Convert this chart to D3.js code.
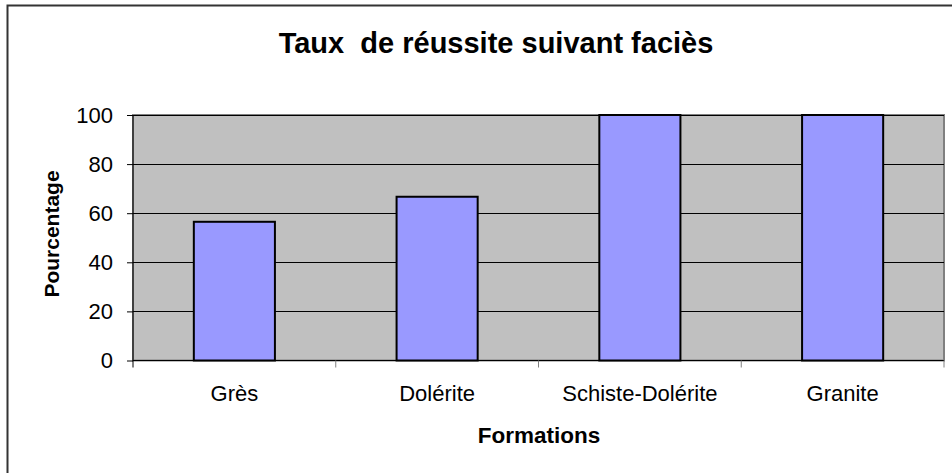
<!DOCTYPE html>
<html>
  <head>
    <meta charset="utf-8" />
    <title>Taux de réussite suivant faciès</title>
    <style>
      body {
        margin: 0;
        background: #fff;
      }
      svg text {
        font-family: "Liberation Sans", Arial, sans-serif;
        fill: #000;
      }
    </style>
  </head>
  <body>
    <svg id="chart" width="952" height="473"></svg>
    <script src="https://cdn.jsdelivr.net/npm/d3@7"></script>
    <script>
      const categories = ["Grès", "Dolérite", "Schiste-Dolérite", "Granite"];
      const values = [56.5, 66.7, 100, 100];
      const yTicks = [0, 20, 40, 60, 80, 100];

      const width = 952;
      const height = 473;
      const plot = { left: 133, right: 944, top: 115, bottom: 360.5 };

      const svg = d3.select("#chart");

      // outer chart frame (runs off the right and bottom edges)
      svg
        .append("rect")
        .attr("x", 7.5)
        .attr("y", 5.5)
        .attr("width", 1000)
        .attr("height", 600)
        .attr("fill", "none")
        .attr("stroke", "#333")
        .attr("stroke-width", 2);

      const x = d3
        .scaleBand()
        .domain(categories)
        .range([plot.left, plot.right])
        .paddingInner(0.6)
        .paddingOuter(0.3);

      const xEdges = d3
        .scaleBand()
        .domain(categories)
        .range([plot.left, plot.right]);

      const y = d3
        .scaleLinear()
        .domain([0, 100])
        .range([plot.bottom, plot.top]);

      // plot area
      svg
        .append("rect")
        .attr("x", plot.left)
        .attr("y", plot.top)
        .attr("width", plot.right - plot.left)
        .attr("height", plot.bottom - plot.top)
        .attr("fill", "#c0c0c0")
        .attr("stroke", "#808080")
        .attr("stroke-width", 2);

      // gridlines
      svg
        .append("g")
        .selectAll("line")
        .data(yTicks.filter((d) => d > 0))
        .join("line")
        .attr("x1", plot.left)
        .attr("x2", plot.right)
        .attr("y1", (d) => Math.round(y(d)) + 0.5)
        .attr("y2", (d) => Math.round(y(d)) + 0.5)
        .attr("stroke", "#000")
        .attr("stroke-width", 1);

      // bars
      svg
        .append("g")
        .selectAll("rect")
        .data(values)
        .join("rect")
        .attr("x", (d, i) => x(categories[i]))
        .attr("y", (d) => y(d))
        .attr("width", x.bandwidth())
        .attr("height", (d) => y(0) - y(d))
        .attr("fill", "#9999ff")
        .attr("stroke", "#000")
        .attr("stroke-width", 2);

      // y axis
      const yAxis = svg
        .append("g")
        .attr("transform", `translate(${plot.left},0)`)
        .call(d3.axisLeft(y).tickValues(yTicks).tickSize(6).tickPadding(14));
      yAxis.select(".domain").remove();
      yAxis.selectAll(".tick line").attr("stroke", "#000");
      yAxis
        .selectAll(".tick text")
        .attr("font-size", 22)
        .attr("font-family", "Liberation Sans, Arial, sans-serif");
      svg
        .append("line")
        .attr("x1", plot.left)
        .attr("x2", plot.left)
        .attr("y1", plot.top)
        .attr("y2", plot.bottom + 7)
        .attr("stroke", "#000");

      // x axis
      svg
        .append("line")
        .attr("x1", plot.left)
        .attr("x2", plot.right)
        .attr("y1", plot.bottom)
        .attr("y2", plot.bottom)
        .attr("stroke", "#000");
      svg
        .append("g")
        .selectAll("line")
        .data(categories.slice(1).concat(["end"]))
        .join("line")
        .attr("x1", (d) => (d === "end" ? plot.right : xEdges(d)))
        .attr("x2", (d) => (d === "end" ? plot.right : xEdges(d)))
        .attr("y1", plot.bottom)
        .attr("y2", plot.bottom + 7)
        .attr("stroke", "#808080");

      svg
        .append("g")
        .selectAll("text")
        .data(categories)
        .join("text")
        .attr("x", (d) => xEdges(d) + xEdges.bandwidth() / 2)
        .attr("y", 401)
        .attr("text-anchor", "middle")
        .attr("font-size", 22)
        .text((d) => d);

      // titles
      svg
        .append("text")
        .attr("x", 496)
        .attr("y", 53)
        .attr("text-anchor", "middle")
        .attr("font-size", 29)
        .attr("font-weight", "bold")
        .text("Taux  de réussite suivant faciès")
        .style("white-space", "pre");

      svg
        .append("text")
        .attr("x", 539)
        .attr("y", 443)
        .attr("text-anchor", "middle")
        .attr("font-size", 22.5)
        .attr("font-weight", "bold")
        .text("Formations");

      svg
        .append("text")
        .attr("transform", "translate(59,234) rotate(-90)")
        .attr("text-anchor", "middle")
        .attr("font-size", 21)
        .attr("font-weight", "bold")
        .text("Pourcentage");
    </script>
  </body>
</html>
